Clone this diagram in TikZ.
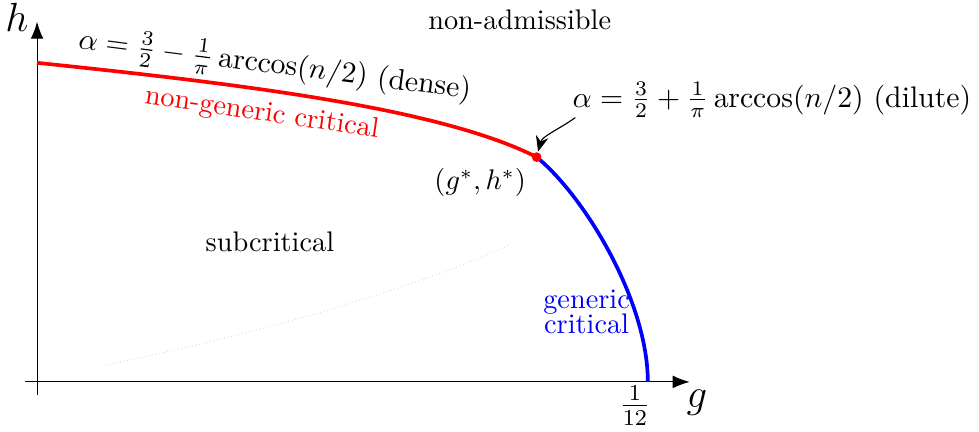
\documentclass[tikz,border=0pt]{standalone}
\usepackage{amsmath}
\usepackage{amssymb}
\usetikzlibrary{arrows.meta}

\begin{document}
\begin{tikzpicture}
  \useasboundingbox (-0.46,-0.61) rectangle (11.69,4.74);
  \tikzset{axis/.style={-{Latex[length=6pt,width=4.5pt]}, line width=0.4pt},
           phase/.style={line width=1.3pt}}
  \draw[axis] (-0.15,0) -- (8.1,0) coordinate (gtip);
  \draw[axis] (0,-0.16) -- (0,4.47) coordinate (htip);
  \node (glab) at (8.19,-0.26) {\Large $g$};
  \node (hlab) at (-0.25,4.52) {\Large $h$};
  \coordinate (h0) at (0,3.96);
  \coordinate (gstar) at (6.2,2.79);
  \coordinate (g0) at (7.58,0);
  \draw[red!25, densely dotted, line width=0.3pt] (0.85,0.21) .. controls (2.5,0.55) and (4.4,1.05) .. (5.87,1.7);
  \draw[phase, red] (h0) .. controls (2.5,3.7) and (5,3.4) .. (gstar);
  \draw[phase, blue] (gstar) .. controls (6.8,2.3) and (7.58,1.0) .. (g0);
  \fill[red] (gstar) circle (0.06);
  \node (twelfth) at (7.42,-0.3) {\large $\frac{1}{12}$};
  \node (nonadm) at (5.99,4.49) {non-admissible};
  \node[rotate=-7.3, scale=1.05] (dense) at (2.95,3.92) {$\alpha=\frac32-\frac1\pi\arccos(n/2)$ (dense)};
  \node[rotate=-8.3, red] (nongen) at (2.79,3.33) {non-generic critical};
  \node[scale=1.05] (dilute) at (9.12,3.5) {$\alpha=\frac32+\frac1\pi\arccos(n/2)$ (dilute)};
  \draw[-{Stealth[length=5.5pt,width=4.5pt]}, shorten >=2pt] (6.68,3.28) to[out=-145,in=75] (gstar);
  \node (fixpt) at (5.5,2.47) {$(g^*,h^*)$};
  \node (subcrit) at (2.89,1.74) {subcritical};
  \node[blue, align=center] (gen) at (6.82,0.87) {generic\\[-3pt]critical};
\end{tikzpicture}
\end{document}
